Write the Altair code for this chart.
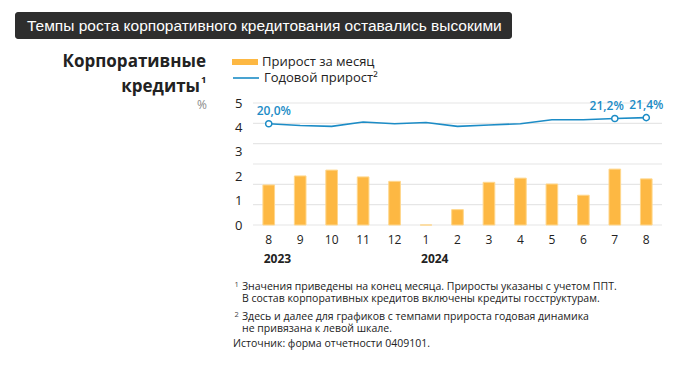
import altair as alt
import pandas as pd

# ---- data ----
periods = ["2023-08", "2023-09", "2023-10", "2023-11", "2023-12", "2024-01", "2024-02",
           "2024-03", "2024-04", "2024-05", "2024-06", "2024-07", "2024-08"]
monthly_growth = [1.64, 2.01, 2.25, 1.97, 1.79, 0.0, 0.63, 1.75, 1.92, 1.68, 1.22, 2.29, 1.89]
annual_growth = [20.0, 19.6, 19.4, 20.4, 20.0, 20.3, 19.4, 19.7, 20.0, 20.9, 20.9, 21.2, 21.4]
annual_labels = ["20,0%", "", "", "", "", "", "", "", "", "", "", "21,2%", "21,4%"]
year_names = ["2023", "2024"]
year_periods = ["2023-08", "2024-01"]
left_ticks = [0, 1, 2, 3, 4, 5]
grid_levels = [0, 0.8333, 1.6667, 2.5, 3.3333, 4.1667, 5]

bar_name = "Прирост за месяц"
line_name = "Годовой прирост²"

ORANGE = "#FDB843"
ORANGE_EDGE = "#FFD78C"
BLUE = "#1C8CC6"
TXT = "#222222"
FONT = "Open Sans"

df = pd.DataFrame({
    "period": periods,
    "monthly": monthly_growth,
    "annual": annual_growth,
    "label": annual_labels,
    "s1": [bar_name] * len(periods),
    "s2": [line_name] * len(periods),
})
years_df = pd.DataFrame({"period": year_periods, "year": year_names})
grid_df = pd.DataFrame({"g": grid_levels})

W, H = 409, 122
unit_scale = alt.Scale(domain=[0, 5], nice=False, zero=False)
annual_scale = alt.Scale(domain=[-3.24, 24.76], nice=False, zero=False)
x_scale = alt.Scale(domain=periods, paddingInner=0.63, paddingOuter=0.315)

x_axis = alt.X("period:N", sort=periods, scale=x_scale,
               axis=alt.Axis(title=None, labelAngle=0, domain=False, ticks=False, grid=False,
                             labelPadding=9, labelFontSize=12, labelColor=TXT, labelFont=FONT,
                             labelExpr="'' + toNumber(split(datum.label, '-')[1])"))
x_plain = alt.X("period:N", sort=periods, scale=x_scale)

grid = alt.Chart(grid_df).mark_rule(color="#E6E6E6", strokeWidth=1.2).encode(
    y=alt.Y("g:Q", scale=unit_scale, axis=None),
    x=alt.value(0), x2=alt.value(W),
)

bars = alt.Chart(df).mark_bar(stroke=ORANGE_EDGE, strokeWidth=1).encode(
    x=x_axis,
    y=alt.Y("monthly:Q", scale=unit_scale,
            axis=alt.Axis(values=left_ticks, title=None, grid=False, domain=False, ticks=False,
                          labelPadding=11, labelFontSize=13, labelColor=TXT, labelFont=FONT)),
    color=alt.Color("s1:N", scale=alt.Scale(domain=[bar_name], range=[ORANGE]),
                    legend=alt.Legend(orient="none", legendX=-21, legendY=-54, title=None,
                                      padding=0, symbolType="M-1,-0.23H1V0.23H-1Z",
                                      symbolSize=676, symbolStrokeWidth=0, labelOffset=4,
                                      labelFontSize=13, labelColor=TXT, labelFont=FONT)),
)

years = alt.Chart(years_df).mark_text(align="left", baseline="middle", dx=-5, fontSize=12,
                                      fontWeight="bold", color=TXT, font=FONT).encode(
    x=x_plain,
    y=alt.value(156),
    text="year:N",
)

line = alt.Chart(df).mark_line(strokeWidth=1.6).encode(
    x=x_plain,
    y=alt.Y("annual:Q", scale=annual_scale, axis=None),
    stroke=alt.Stroke("s2:N", scale=alt.Scale(domain=[line_name], range=[BLUE]),
                      legend=alt.Legend(orient="none", legendX=-21, legendY=-39, title=None,
                                        padding=0, symbolType="stroke", symbolSize=676,
                                        symbolStrokeWidth=1.6, labelOffset=4,
                                        labelFontSize=13, labelColor=TXT, labelFont=FONT)),
)

points = alt.Chart(df).mark_point(filled=True, fill="white", stroke=BLUE, strokeWidth=1.5,
                                  size=38, opacity=1).transform_filter(
    "datum.label != ''").encode(
    x=x_plain,
    y=alt.Y("annual:Q", scale=annual_scale, axis=None),
)

label_layers = []
for lab, align, dx in [(annual_labels[0], "left", -12), (annual_labels[11], "right", 9),
                       (annual_labels[12], "center", 0)]:
    label_layers.append(
        alt.Chart(df).mark_text(align=align, baseline="middle", dx=dx, dy=-13, fontSize=12,
                                fontWeight=600, color=BLUE, font=FONT).transform_filter(
            alt.datum.label == lab).encode(
            x=x_plain,
            y=alt.Y("annual:Q", scale=annual_scale, axis=None),
            text="label:N",
        )
    )

one = alt.Data(values=[{}])


def note(text, x, y, **kw):
    style = dict(align="left", baseline="middle", fontSize=10.5, color=TXT, font=FONT)
    style.update(kw)
    return alt.Chart(one).mark_text(text=text, **style).encode(x=alt.value(x), y=alt.value(y))


title_box = alt.Chart(one).mark_rect(color="#2E2E2E", cornerRadius=3).encode(
    x=alt.value(-238), x2=alt.value(259), y=alt.value(-91), y2=alt.value(-64))

annotations = [
    title_box,
    note("Темпы роста корпоративного кредитования оставались высокими", -226, -77.5,
         fontSize=15.5, color="white", font="Liberation Sans"),
    note("Корпоративные", -47, -41, align="right", fontSize=17, fontWeight="bold"),
    note("кредиты", -53, -16, align="right", fontSize=17, fontWeight="bold"),
    note("1", -52, -23, fontSize=9.5, fontWeight="bold"),
    note("%", -46, 2, align="right", fontSize=12, color="#8A8A8A"),
    note("1", -18.5, 182, fontSize=7.5, color="#444444"),
    note("Значения приведены на конец месяца. Приросты указаны с учетом ППТ.", -11, 184),
    note("В состав корпоративных кредитов включены кредиты госструктурам.", -11, 196),
    note("2", -18.5, 212, fontSize=7.5, color="#444444"),
    note("Здесь и далее для графиков с темпами прироста годовая динамика", -11, 214),
    note("не привязана к левой шкале.", -11, 226),
    note("Источник: форма отчетности 0409101.", -20, 241),
]

chart = alt.layer(grid, bars, years, line, points, *label_layers, *annotations).resolve_scale(
    y="independent", color="independent", stroke="independent"
).properties(
    width=W, height=H,
    padding={"left": 245, "top": 95, "right": 30, "bottom": 128},
    autosize=alt.AutoSizeParams(type="none"),
).configure_view(stroke=None)

chart.save("out.html", embed_options={"renderer": "svg", "actions": False})
